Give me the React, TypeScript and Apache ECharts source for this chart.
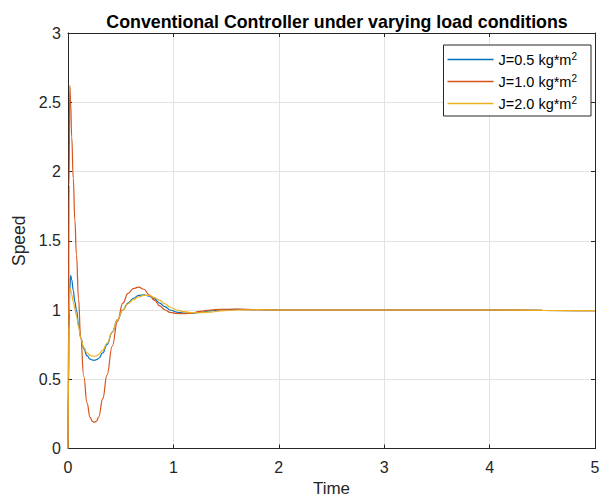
import React, { useEffect, useRef } from "react";
import * as echarts from "echarts";

const TITLE = "Conventional Controller under varying load conditions";
const X_NAME = "Time";
const Y_NAME = "Speed";

const seriesNames = ["J=0.5 kg*m2", "J=1.0 kg*m2", "J=2.0 kg*m2"];
const legendLabels = ["J=0.5 kg*m{sup|2}", "J=1.0 kg*m{sup|2}", "J=2.0 kg*m{sup|2}"];
const colors = ["#0072BD", "#D95319", "#EDB120"];

const time = [
  0, 0.005, 0.01, 0.017, 0.025, 0.035, 0.05, 0.065, 0.08, 0.1, 0.12, 0.15, 0.18, 0.21, 0.23, 0.25,
  0.27, 0.29, 0.33, 0.37, 0.42, 0.47, 0.52, 0.57, 0.62, 0.67, 0.72, 0.77, 0.82, 0.87, 0.92, 0.97,
  1.03, 1.1, 1.17, 1.25, 1.35, 1.45, 1.6, 1.8, 2.0, 2.5, 3, 3.5, 4, 4.5, 5,
];

const speedJ05 = [
  0, 0.45, 0.85, 1.15, 1.248, 1.22, 1.14, 1.06, 1.0, 0.9, 0.8, 0.72, 0.67, 0.645, 0.639, 0.637,
  0.641, 0.65, 0.69, 0.75, 0.84, 0.93, 1.0, 1.05, 1.085, 1.105, 1.11, 1.1, 1.08, 1.05, 1.025, 1.0,
  0.985, 0.978, 0.977, 0.982, 0.993, 1.0, 1.004, 1.002, 1.0, 1.0, 1.0, 1.0, 1.0, 0.998, 0.995,
];

const speedJ10 = [
  0, 0.9, 1.9, 2.62, 2.5, 2.25, 1.95, 1.65, 1.4, 1.08, 0.8, 0.52, 0.33, 0.225, 0.197, 0.19,
  0.197, 0.225, 0.36, 0.53, 0.74, 0.92, 1.05, 1.12, 1.155, 1.165, 1.15, 1.11, 1.07, 1.03, 1.0, 0.983,
  0.975, 0.973, 0.978, 0.99, 1.0, 1.005, 1.006, 1.002, 1.0, 1.0, 1.0, 1.0, 1.0, 0.998, 0.995,
];

const speedJ20 = [
  0, 0.5, 0.95, 1.155, 1.15, 1.11, 1.06, 1.01, 0.96, 0.88, 0.8, 0.73, 0.69, 0.672, 0.667, 0.666,
  0.669, 0.68, 0.71, 0.76, 0.84, 0.93, 1.0, 1.045, 1.075, 1.095, 1.105, 1.105, 1.09, 1.07, 1.045, 1.02,
  1.0, 0.988, 0.981, 0.98, 0.985, 0.993, 1.0, 1.002, 1.0, 1.0, 1.0, 1.0, 1.0, 0.998, 0.995,
];

const allSpeeds = [speedJ05, speedJ10, speedJ20];

const X_MIN = 0, X_MAX = 5, X_INT = 1;
const Y_MIN = 0, Y_MAX = 3, Y_INT = 0.5;

const FONT = "'Liberation Sans', Arial, Helvetica, sans-serif";
const INK = "#262626";

export default function App() {
  const ref = useRef<HTMLDivElement>(null);
  useEffect(() => {
    document.body.style.margin = "0";
    if (!ref.current) return;
    const chart = echarts.init(ref.current, undefined, { renderer: "svg" });
    const axisCommon = {
      type: "value" as const,
      axisLine: { show: true, onZero: false, lineStyle: { color: INK, width: 1 } },
      axisTick: { show: true, inside: true, length: 4, lineStyle: { color: INK } },
    };
    chart.setOption({
      animation: false,
      backgroundColor: "#ffffff",
      title: {
        text: TITLE,
        left: 332,
        top: 8,
        textAlign: "center",
        textStyle: { fontFamily: FONT, fontSize: 17.8, fontWeight: "bold", color: "#000" },
      },
      grid: {
        left: 68,
        right: 7,
        top: 33,
        bottom: 48.5,
        show: false,
        containLabel: false,
        outerBoundsMode: "none",
      },
      legend: {
        orient: "vertical",
        right: 11,
        top: 45,
        data: seriesNames,
        formatter: (name: string) => legendLabels[seriesNames.indexOf(name)],
        icon: "rect",
        itemWidth: 46,
        itemHeight: 1.5,
        itemGap: 6,
        padding: [6, 14, 5, 4],
        borderColor: INK,
        borderWidth: 1,
        borderRadius: 0,
        backgroundColor: "#fff",
        textStyle: {
          fontFamily: FONT,
          fontSize: 14.5,
          color: "#000",
          rich: {
            sup: { fontFamily: FONT, fontSize: 10, color: "#000", verticalAlign: "top", padding: [0, 0, 7, 0] },
          },
        },
      },
      xAxis: [
        {
          ...axisCommon,
          position: "bottom",
          min: X_MIN,
          max: X_MAX,
          interval: X_INT,
          name: X_NAME,
          nameLocation: "middle",
          nameGap: 29,
          nameTextStyle: { fontFamily: FONT, fontSize: 17, lineHeight: 16, color: INK },
          axisLabel: { fontFamily: FONT, fontSize: 16, color: INK, margin: 11 },
          splitLine: { show: true, lineStyle: { color: "#e3e3e3", width: 1 } },
        },
        {
          ...axisCommon,
          position: "top",
          min: X_MIN,
          max: X_MAX,
          interval: X_INT,
          axisLabel: { show: false },
          splitLine: { show: false },
        },
      ],
      yAxis: [
        {
          ...axisCommon,
          position: "left",
          min: Y_MIN,
          max: Y_MAX,
          interval: Y_INT,
          name: Y_NAME,
          nameLocation: "middle",
          nameGap: 36,
          nameTextStyle: { fontFamily: FONT, fontSize: 17.5, color: INK },
          axisLabel: { fontFamily: FONT, fontSize: 16, color: INK, margin: 7 },
          splitLine: { show: true, lineStyle: { color: "#e3e3e3", width: 1 } },
        },
        {
          ...axisCommon,
          position: "right",
          min: Y_MIN,
          max: Y_MAX,
          interval: Y_INT,
          axisLabel: { show: false },
          splitLine: { show: false },
        },
      ],
      series: seriesNames.map((name, i) => ({
        name,
        type: "line",
        xAxisIndex: 0,
        yAxisIndex: 0,
        data: time.map((t, k) => [t, allSpeeds[i][k]]),
        showSymbol: false,
        symbol: "none",
        smooth: 0.45,
        smoothMonotone: "x",
        color: colors[i],
        lineStyle: { color: colors[i], width: 1.2 },
        z: 3,
      })),
    });
    return () => chart.dispose();
  }, []);
  return <div ref={ref} style={{ width: 602, height: 497 }} />;
}
